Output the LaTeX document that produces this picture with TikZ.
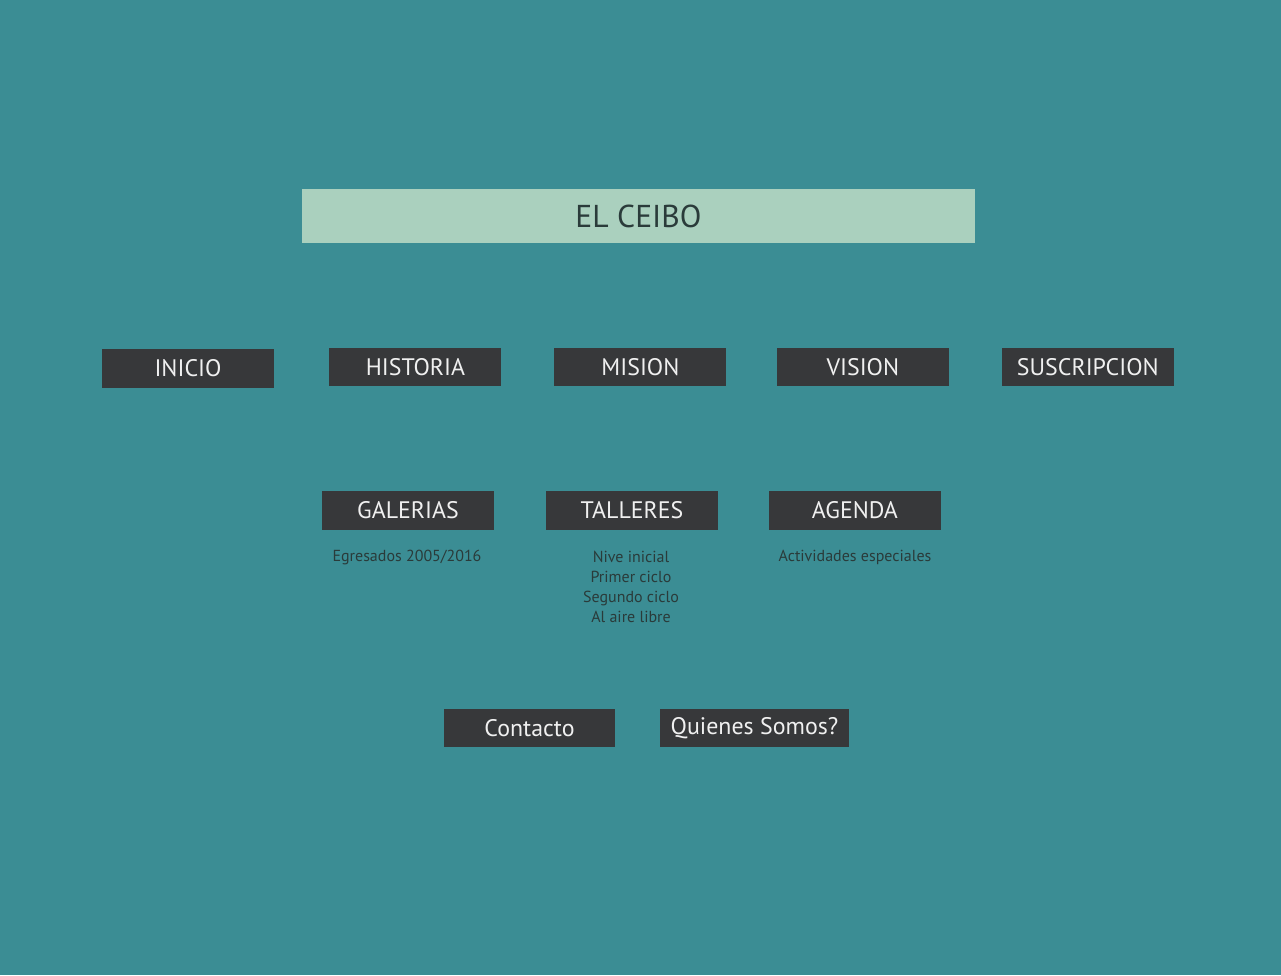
\documentclass[tikz,border=0pt]{standalone}
\usepackage{fontspec}
\setmainfont{PT Sans}
\usetikzlibrary{positioning}
\definecolor{fondo}{HTML}{3B8D94}
\definecolor{caja}{HTML}{37383A}
\definecolor{titulo}{HTML}{AAD0BE}
\definecolor{tinta}{HTML}{2A3B3A}
\begin{document}
\begin{tikzpicture}[x=0.02cm, y=-0.02cm, node distance={4.5cm}]
                \tikzstyle{menu} = [fill=caja, text=white!94!black, minimum width=3.44cm, minimum height=0.77cm, inner sep=0pt, font=\fontsize{13.6}{16}\selectfont]
                \tikzstyle{head} = [fill=titulo, text=tinta, minimum width=13.46cm, minimum height=1.08cm, inner sep=0pt, font=\fontsize{18}{20}\selectfont]
                \tikzstyle{sub} = [text=tinta, align=center, inner sep=0pt, font=\fontsize{9.1}{11.4}\selectfont]

                % Background
                \fill[fondo] (0,0) rectangle (1281,975);
                \useasboundingbox (0,0) rectangle (1281,975);

                % Title
                \node[head] (ceibo) at (638.5,216) {EL CEIBO};

                % First row
                \node[menu] (inicio) at (188,368.5) {INICIO};
                \node[menu] (historia) [right of=inicio, xshift=0.05cm, yshift=0.03cm] {HISTORIA};
                \node[menu] (mision) [right of=historia] {MISION};
                \node[menu] (vision) [right of=mision, xshift=-0.05cm] {VISION};
                \node[menu] (suscripcion) [right of=vision] {SUSCRIPCION};

                % Second row
                \node[menu] (galerias) at (408,510.5) {GALERIAS};
                \node[menu] (talleres) [right of=galerias, xshift=-0.02cm] {TALLERES};
                \node[menu] (agenda) [right of=talleres, xshift=-0.04cm] {AGENDA};

                % Sub items
                \node[sub] (egresados) at (407,557) {Egresados 2005/2016};
                \node[sub] (niveles) at (631,587) {Nive inicial\\Primer ciclo\\Segundo ciclo\\Al aire libre};
                \node[sub] (actividades) at (855,557) {Actividades especiales};

                % Third row
                \node[menu] (contacto) at (529.5,728) {Contacto};
                \node[menu, minimum width=3.78cm] (quienes) at (754.5,728) {Quienes Somos?};
            \end{tikzpicture}
\end{document}
